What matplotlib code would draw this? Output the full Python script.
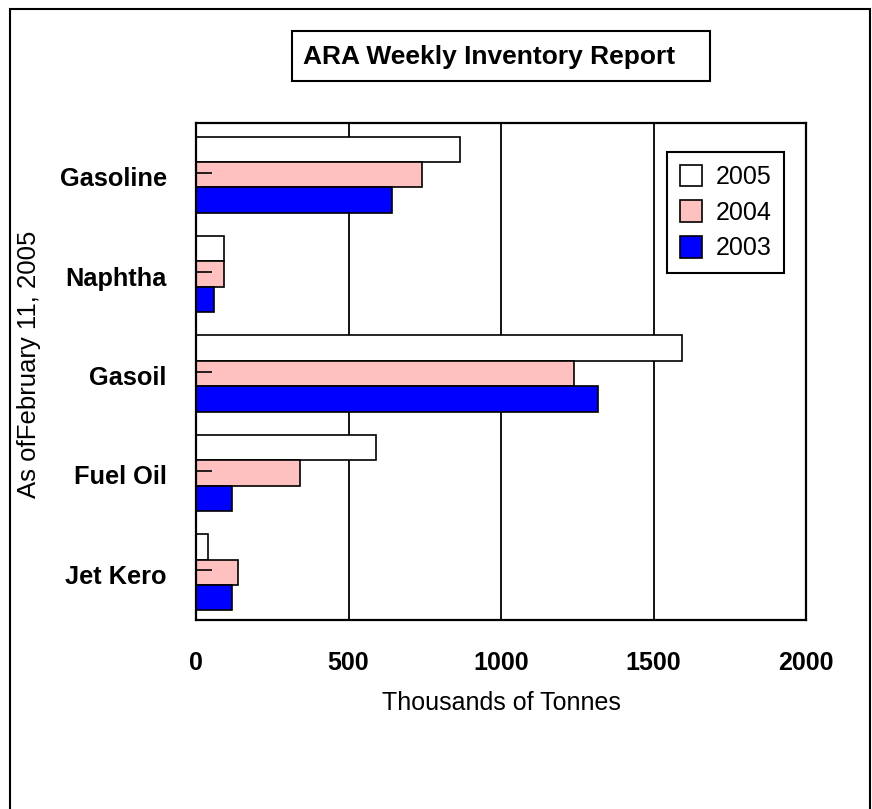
#Plot ARA weekly inventory as horizontal grouped bars

import numpy as np
import matplotlib
matplotlib.use("Agg")
import matplotlib.pyplot as plt
import matplotlib.transforms as mtransforms
from matplotlib.patches import Rectangle

plt.rcParams['font.family'] = ['Liberation Sans', 'DejaVu Sans']

#data (thousands of tonnes)
products = ["Gasoline", "Naphtha", "Gasoil", "Fuel Oil", "Jet Kero"]
years = ["2005", "2004", "2003"]
stocks_2005 = [866, 91, 1593, 590, 39]
stocks_2004 = [741, 91, 1240, 341, 139]
stocks_2003 = [643, 59, 1318, 118, 118]
colors = ["white", "#ffc0c0", "#0000ff"]
xticks = [0, 500, 1000, 1500, 2000]

fig = plt.figure(figsize=(8.72, 8.09), dpi=100)
ax = fig.add_axes([196/872, 1 - 620/809, 610/872, 497/809])

#grid behind the bars
for x in xticks[1:-1]:
    ax.axvline(x, color="black", linewidth=1.3, zorder=0.5)

pos = np.arange(len(products))
h = 0.256
series = [stocks_2005, stocks_2004, stocks_2003]
for i in range(3):
    ax.barh(pos + (i - 1) * h + 0.02, series[i], height=h, color=colors[i],
            edgecolor="black", linewidth=1.2, label=years[i], zorder=1)

ax.set_xlim(0, 2000)
ax.set_ylim(len(products) - 0.5, -0.5)
ax.set_xticks(xticks)
ax.set_xticklabels([str(x) for x in xticks], fontsize=18, fontweight="bold")
ax.set_yticks(pos)
ax.set_yticklabels(products, fontsize=18.3, fontweight="bold")
ax.set_axisbelow(False)
ax.tick_params(axis="x", length=0, pad=22)
ax.tick_params(axis="y", direction="in", length=11.5, width=1.2, pad=21)
for s in ax.spines.values():
    s.set_linewidth(1.6)

#category names sit a little below the bar centres
shift = mtransforms.ScaledTranslation(0, -4/100, fig.dpi_scale_trans)
for lbl in ax.get_yticklabels():
    lbl.set_transform(lbl.get_transform() + shift)

ax.set_xlabel("Thousands of Tonnes", fontsize=18, labelpad=12)
ax.set_ylabel("As ofFebruary 11, 2005", fontsize=18.5)
ax.yaxis.set_label_coords(-0.254, 0.514)

leg = ax.legend(loc="upper right", bbox_to_anchor=(0.964, (620 - 152) / 497), borderaxespad=0,
                fontsize=18, fancybox=False, framealpha=1, edgecolor="black",
                handlelength=0.88, handleheight=0.96, handletextpad=0.56,
                labelspacing=0.45, borderpad=0.5)
leg.get_frame().set_linewidth(1.5)

#title in its own box
fig.patches.append(Rectangle((292/872, 1 - 81/809), 418/872, 50/809, transform=fig.transFigure,
                             fill=False, edgecolor="black", linewidth=1.5))
fig.text(489/872, 1 - 57/809, "ARA Weekly Inventory Report", fontsize=19, fontweight="bold",
         ha="center", va="center")

#outer border
fig.patches.append(Rectangle((10/872, -0.02), 860/872, 1.02 - 9/809, transform=fig.transFigure,
                             fill=False, edgecolor="black", linewidth=1.5))

fig.savefig("out.png", dpi=100)
